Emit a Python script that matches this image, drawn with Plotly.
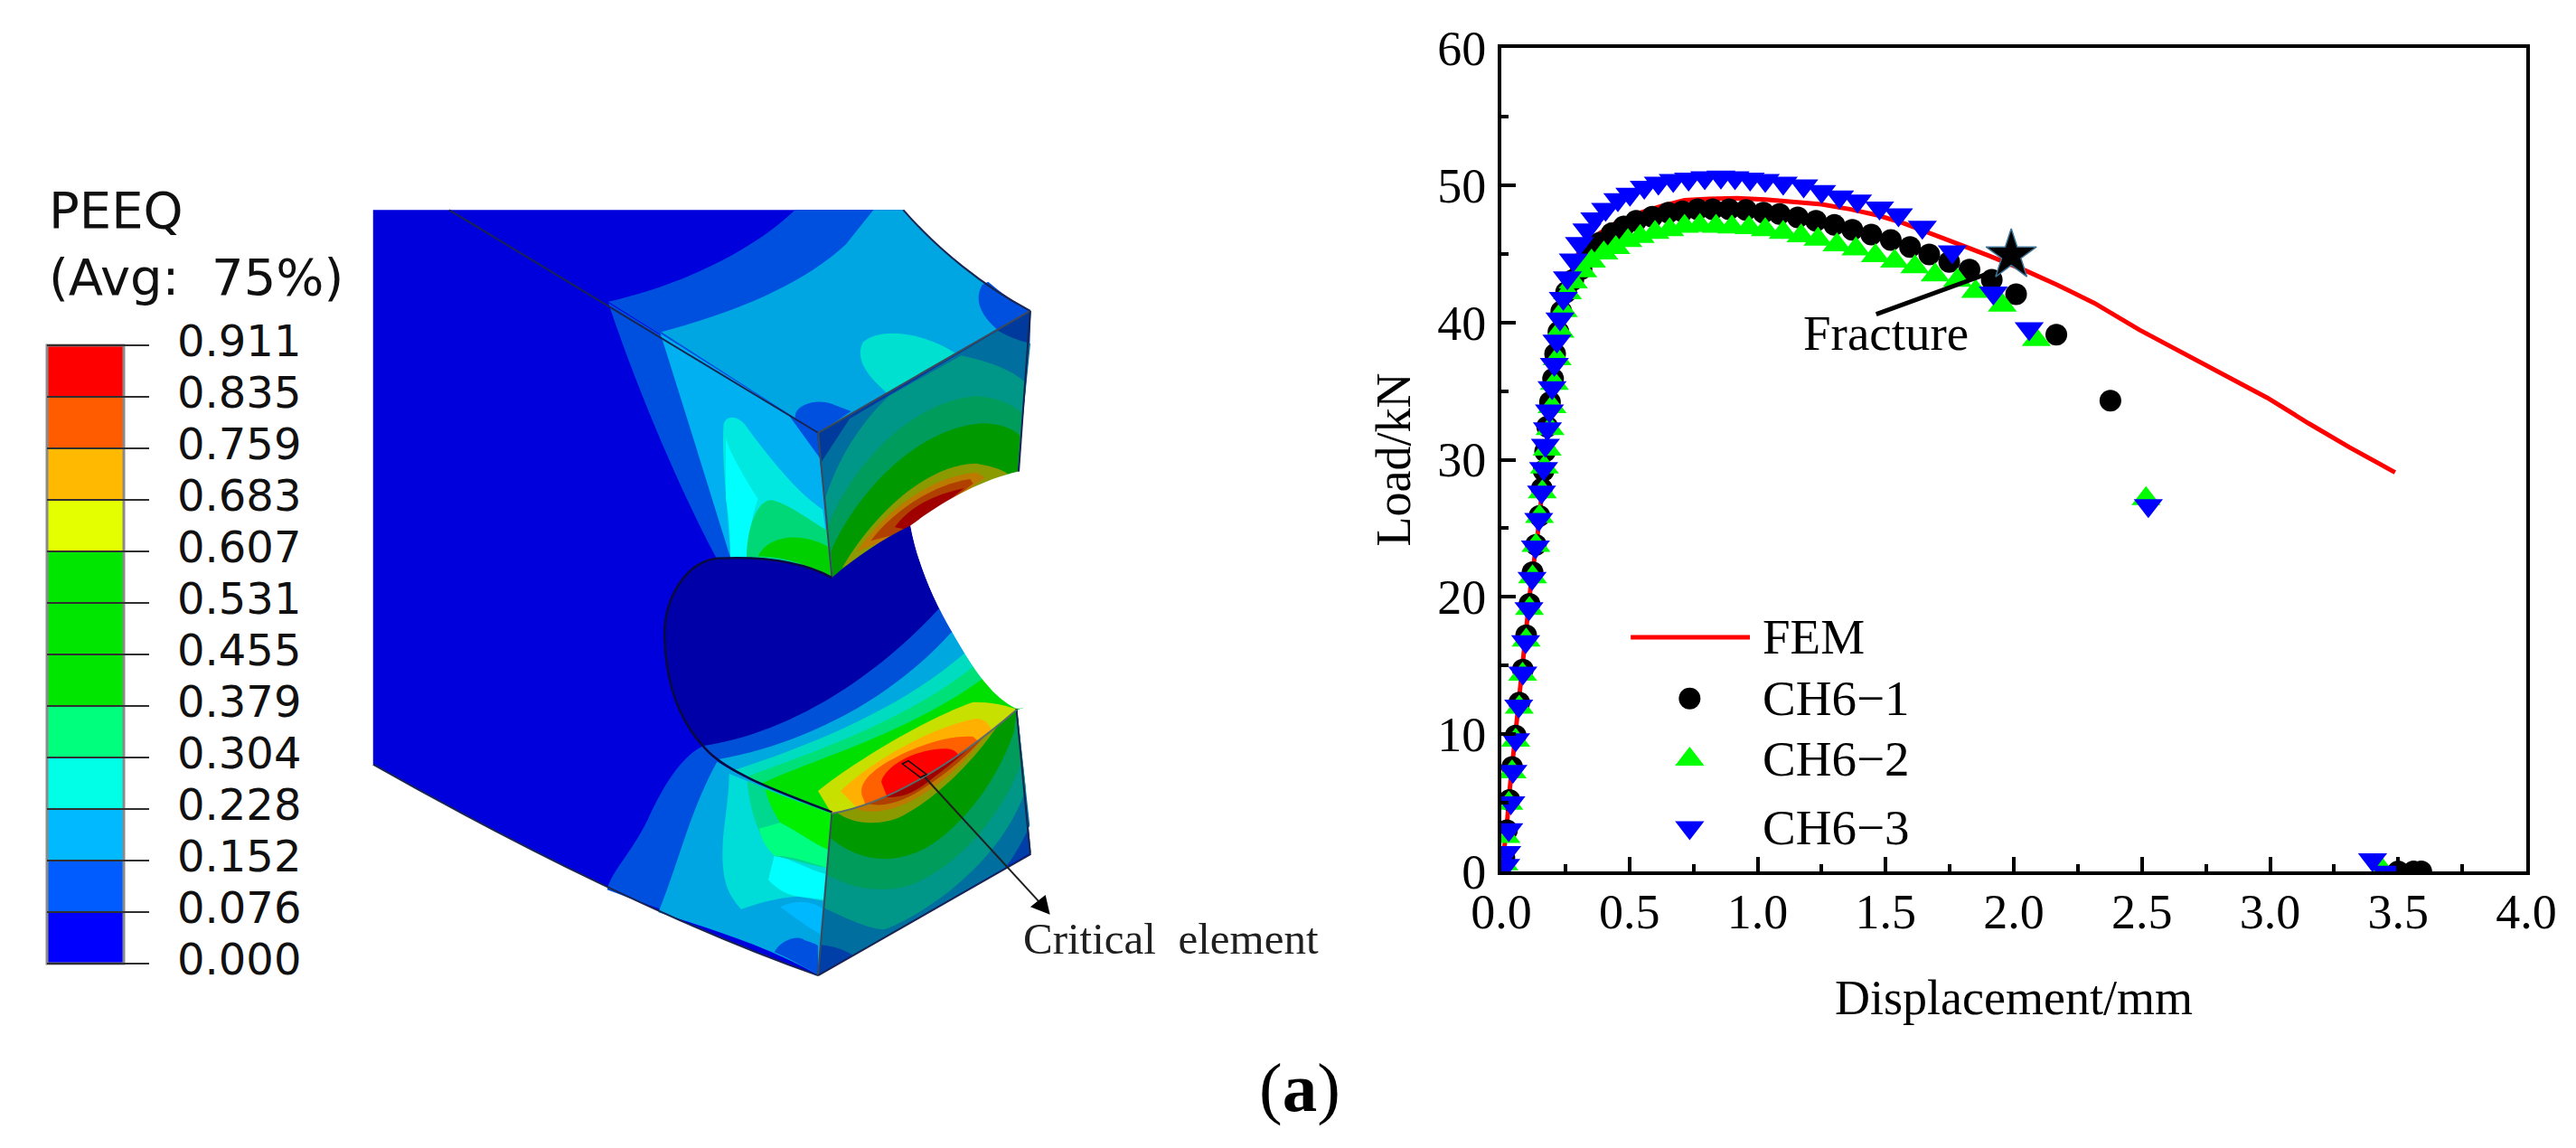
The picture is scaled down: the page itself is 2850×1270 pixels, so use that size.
import re
import plotly.graph_objects as go

# ---------------- chart data ----------------
fem_x = [0, .02, .034, .06, .085, .113, .144, .175, .20, .23, .26, .30, .384, .447, .526, .62, .715, .81, .92, 1.03,
         1.14, 1.25, 1.36, 1.47, 1.567, 1.677, 1.82, 1.905, 2.05, 2.168, 2.315, 2.49, 2.638, 2.785, 2.99, 3.15, 3.31, 3.488]
fem_y = [0, 3, 6.2, 10.8, 15.3, 20.5, 24.9, 30.5, 35.5, 40, 43, 45, 46.5, 47.25, 47.9, 48.45, 48.9, 49.0, 49.05, 48.95,
         48.8, 48.6, 48.25, 47.8, 47.25, 46.5, 45.45, 44.84, 43.74, 42.75, 41.4, 39.46, 38.0, 36.6, 34.5, 32.65, 30.9, 29.07]

ch1_x = [.012, .022, .032, .042, .056, .07, .084, .097, .11, .122, .135, .149, .158, .165, .171, .179, .19, .202, .21,
         .223, .234, .253, .281, .313, .34, .384, .431, .478, .526, .589, .652, .707, .766, .825, .889, .955, 1.023,
         1.086, 1.157, 1.228, 1.30, 1.37, 1.444, 1.52, 1.595, 1.67, 1.748, 1.827, 1.914, 2.009, 2.166, 2.377, 3.50, 3.56, 3.59]
ch1_y = [1.0, 3.0, 5.2, 7.6, 9.9, 12.3, 14.7, 17.2, 19.5, 21.8, 23.8, 25.9, 27.9, 29.2, 30.6, 32.4, 34.2, 35.9, 37.7,
         39.3, 40.8, 42.2, 43.1, 43.9, 45.3, 45.8, 46.5, 47.0, 47.4, 47.7, 48.0, 48.1, 48.25, 48.25, 48.25, 48.2, 48.0,
         47.9, 47.65, 47.4, 47.1, 46.75, 46.4, 46.0, 45.5, 44.95, 44.4, 43.85, 43.1, 42.05, 39.1, 34.3, 0, 0, 0]

ch2_x = [.01, .018, .029, .042, .056, .07, .083, .097, .11, .122, .135, .149, .16, .168, .179, .19, .198, .207, .218,
         .229, .242, .258, .281, .318, .352, .40, .447, .494, .542, .60, .657, .715, .775, .838, .90, .967, 1.03, 1.10,
         1.17, 1.236, 1.31, 1.384, 1.46, 1.535, 1.614, 1.693, 1.78, 1.851, 1.955, 2.088, 2.516, 3.44]
ch2_y = [.55, 2.54, 4.95, 7.25, 9.55, 11.95, 14.35, 16.85, 19.15, 21.45, 23.75, 25.85, 27.65, 29.45, 30.75, 32.25, 33.85,
         35.55, 37.35, 39.35, 40.85, 42.15, 42.95, 43.75, 44.45, 45.05, 45.45, 45.95, 46.25, 46.55, 46.75, 47.0, 47.05,
         47.0, 46.95, 46.9, 46.75, 46.55, 46.3, 46.05, 45.65, 45.35, 44.85, 44.45, 44.05, 43.45, 43.05, 42.25, 41.25, 38.75, 27.15, .05]

ch3_x = [.017, .021, .029, .037, .045, .056, .068, .084, .095, .108, .12, .133, .146, .157, .165, .172, .18, .188, .198,
         .207, .217, .229, .242, .258, .281, .305, .334, .365, .407, .455, .502, .558, .613, .671, .731, .794, .857, .912,
         .971, 1.03, 1.10, 1.18, 1.25, 1.32, 1.39, 1.476, 1.55, 1.643, 1.76, 1.92, 2.06, 2.525, 3.40, 3.45]
ch3_y = [.45, 1.39, 3.04, 5.0, 7.3, 9.6, 12.05, 14.45, 16.75, 19.15, 21.35, 23.65, 25.65, 27.65, 29.35, 31.05, 32.25, 33.55,
         35.25, 36.95, 38.65, 40.25, 41.75, 43.25, 44.55, 45.75, 46.75, 47.55, 48.25, 48.95, 49.35, 49.85, 50.15, 50.35,
         50.45, 50.55, 50.6, 50.55, 50.45, 50.35, 50.15, 49.95, 49.55, 49.15, 48.85, 48.35, 47.85, 46.95, 45.15, 42.15,
         39.55, 26.65, .85, -.05]

fracture_x = [1.99]
fracture_y = [44.9]
fracture_pointer_x = [1.463, 1.905]
fracture_pointer_y = [40.6, 43.6]

x_ticks = [0.0, 0.5, 1.0, 1.5, 2.0, 2.5, 3.0, 3.5, 4.0]
y_ticks = [0, 10, 20, 30, 40, 50, 60]

legend_names = ["FEM", "CH6\u22121", "CH6\u22122", "CH6\u22123"]
legend_key_y = [17.06, 12.6, 8.17, 3.2]
legend_line_x = [.505, .97]
legend_key_x = .735
legend_text_x = 1.012

peeq_levels = ["0.911", "0.835", "0.759", "0.683", "0.607", "0.531", "0.455",
               "0.379", "0.304", "0.228", "0.152", "0.076", "0.000"]
peeq_colors = ["#ff0000", "#ff5c00", "#ffb900", "#e3ff00", "#00e600", "#00e600", "#00e600",
               "#00ff7c", "#00ffe6", "#00b9ff", "#005cff", "#0000ff"]

W, H = 2850, 1270
SERIF = "Liberation Serif"

# ---------------- helpers for the drawn (non-data) illustration ----------------
Z6 = (400, 200, 1.96, 1.704)
Z8 = (880, 300, 3, 3)
Z9 = (880, 750, 3, 3)
Z10 = (650, 750, 3, 3)
NUM = re.compile(r"(-?\d+(?:\.\d+)?),(-?\d+(?:\.\d+)?)")


def T(fr, d):
    ox, oy, sx, sy = fr
    return NUM.sub(lambda m: f"{ox + float(m[1]) / sx:.2f},{oy + float(m[2]) / sy:.2f}", d)


def bez(t):
    p = [(120, 450), (300, 420), (520, 290), (735, 105)]
    u = 1 - t
    c = [u ** 3, 3 * u * u * t, 3 * u * t * t, t ** 3]
    return sum(a * b[0] for a, b in zip(c, p)), sum(a * b[1] for a, b in zip(c, p))


def arc(t0, t1, n=24):
    """lower notch edge, page coordinates, as line segments"""
    out = []
    for i in range(n + 1):
        x, y = bez(t0 + (t1 - t0) * i / n)
        out.append(f"L{880 + x / 3:.2f},{750 + y / 3:.2f}")
    return " ".join(out)


shapes = []


def paper(d):
    return NUM.sub(lambda m: f"{float(m[1]) / W:.5f},{1 - float(m[2]) / H:.5f}", d)


def fill(d, color):
    shapes.append(dict(type="path", xref="paper", yref="paper", path=paper(d), fillcolor=color,
                       line=dict(width=0), layer="below"))


def stroke(d, color="#1a2450", width=2):
    shapes.append(dict(type="path", xref="paper", yref="paper", path=paper(d),
                       line=dict(color=color, width=width), layer="below"))


BLUE0, BLUE1, BLUE2 = "#0000dc", "#0050e0", "#00a6e2"

# silhouette
fill(T(Z6, "M25,55 L1175,55 C1250,130 1350,200 1450,245 L1425,548 C1340,565 1260,605 1190,650 "
           "C1205,720 1240,790 1280,850 C1320,910 1360,970 1420,995 L1450,1270 L990,1498 "
           "C700,1410 350,1260 25,1100 Z"), BLUE0)
# top face
fill(T(Z6, "M535,228 C700,195 850,130 940,55 L1175,55 C1250,130 1350,200 1450,245 L990,475 Z"), BLUE1)
fill(T(Z6, "M650,285 C800,250 950,200 1050,120 L1110,55 L1175,55 C1250,130 1350,200 1450,245 L990,475 Z"), BLUE2)
fill(T(Z8, "M672,195 C620,150 590,100 620,45 L640,35 C680,70 730,105 782,132 Z"), BLUE1)
fill(T(Z8, "M305,405 C240,350 195,290 225,235 C290,180 440,210 535,275 Z"), "#00e0d0")
fill(T(Z8, "M0,490 C-10,450 60,420 120,440 L185,465 L72,540 Z"), BLUE1)
# upper left face
fill(T(Z6, "M535,230 L990,475 L1020,748 C950,715 860,708 770,712 C700,600 600,400 535,230 Z"), BLUE1)
fill(T(Z6, "M648,288 L925,440 L1000,530 L1020,748 C950,715 860,708 800,710 C760,600 700,430 648,288 Z"), "#00b0f0")
fill(T(Z6, "M785,460 C790,440 820,440 840,470 C900,540 950,590 1000,620 L1020,748 C960,715 880,708 800,710 "
           "C795,620 780,530 785,460 Z"), "#00e8e0")
fill(T(Z6, "M790,600 C800,640 800,690 800,710 L840,710 C840,660 850,620 860,600 C830,560 790,500 790,480 Z"), "#00ffff")
fill(T(Z6, "M835,712 C835,650 860,600 890,602 C930,610 970,640 1012,660 L1020,748 C950,715 880,708 835,712 Z"), "#00d878")
fill(T(Z6, "M860,708 C880,670 950,660 1012,690 L1020,748 C950,715 900,708 860,708 Z"), "#00d000")
# upper right face
UP_ARC = "L737,670 C600,700 480,760 385,825 C300,880 220,960 125,1025"
fill(T(Z8, "M72,540 L782,132 L778,240 " + UP_ARC + " Z"), "#003a9c")
fill(T(Z8, "M85,635 L180,490 L672,197 Q720,225 780,240 " + UP_ARC + " Z"), "#006e9e")
fill(T(Z8, "M100,750 C150,600 230,490 310,415 L550,280 C650,300 720,330 765,370 " + UP_ARC + " Z"), "#009688")
fill(T(Z8, "M105,850 C190,640 380,440 590,415 C660,415 720,440 750,470 " + UP_ARC + " Z"), "#009c5c")
fill(T(Z8, "M118,930 C200,740 400,520 620,505 C670,505 720,520 745,545 " + UP_ARC + " Z"), "#009900")
fill(T(Z8, "M155,985 C250,820 430,640 600,638 C640,645 680,655 705,672 L385,860 Z"), "#8a9a00")
fill(T(Z8, "M205,930 C290,800 450,680 600,668 L630,685 L385,860 Z"), "#bd7a00")
fill(T(Z8, "M250,895 C320,800 450,710 580,690 L590,705 L385,860 Z"), "#b04000")
fill(T(Z8, "M330,850 C370,790 450,745 540,725 L560,720 L385,860 Z"), "#a00000")
# lower right face (its top is covered by the hole surface drawn next)
fill(T(Z9, "M120,440 L735,100 L782,580 L75,985 Z"), "#003fa8")
fill(T(Z9, "M78,885 C130,890 170,905 190,920 L695,630 C730,590 760,530 778,490 L735,100 L120,440 Z"), "#006e9e")
fill(T(Z9, "M88,760 C170,800 250,835 295,835 C420,790 680,620 765,370 L735,100 L120,440 Z"), "#009688")
fill(T(Z9, "M102,650 C180,700 300,720 400,680 C560,610 700,430 750,280 L735,100 L120,440 Z"), "#009c5c")
fill(T(Z9, "M115,530 C200,600 300,620 400,580 C520,530 660,370 725,180 L735,100 L120,440 Z"), "#009900")
fill(T(Z9, "M135,445 C180,480 260,495 340,465 C440,420 590,290 690,130 L120,440 Z"), "#8a9a00")
fill(T(Z9, "M185,430 C230,450 300,450 380,410 C480,360 580,270 660,150 Z"), "#bd7a00")
fill(T(Z9, "M230,415 C280,430 340,420 420,370 C500,320 570,260 630,190 Z"), "#b04000")
fill(T(Z9, "M300,395 C340,400 390,385 440,345 C500,300 550,260 590,220 Z"), "#a00000")
# hole surface
HOLE = (T(Z6, "M1020,748 C950,715 860,708 770,712 C700,720 655,790 657,860 C660,950 690,1020 745,1070 "
              "C790,1115 900,1150 1020,1190 ") + arc(0, 1) +
        T(Z6, " C1360,970 1320,910 1280,850 C1240,790 1205,720 1190,650 C1130,675 1070,710 1020,748 Z"))
fill(HOLE, "#0000a8")
CLOSE = " L1150,672 L1150,778 L1125,785 " + arc(1, 0) + " L800,880 Z"
fill("M778,825 C850,815 950,770 1040,672" + CLOSE, "#0050d8")
fill("M795,840 C880,825 980,780 1052,700" + CLOSE, "#00a8e0")
fill("M812,852 C880,830 990,790 1068,722" + CLOSE, "#00dcc0")
fill("M830,858 C890,835 1000,800 1080,735" + CLOSE, "#00e078")
fill("M847,865 C900,840 1010,810 1095,745" + CLOSE, "#00e000")
fill(T(Z9, "M120,450 L75,375 C180,290 420,140 590,80 C650,80 700,90 735,105") + " " + arc(1, 0) + " Z", "#c8e000")
fill(T(Z9, "M150,375 C260,270 460,160 600,135 C625,135 640,150 650,170") + " " + arc(.87, .15) + " Z", "#ffb000")
fill(T(Z9, "M225,400 C200,350 260,300 340,260 C430,215 520,190 590,195") + " " + arc(.8, .2) + " Z", "#ff6000")
fill(T(Z9, "M285,345 C300,290 400,235 500,235 C520,235 535,245 541,255") + " " + arc(.7, .32) + " Z", "#ff0000")
# white notch
fill(T(Z6, "M1425,548 C1340,565 1260,605 1190,650 C1205,720 1240,790 1280,850 C1320,910 1360,970 1420,995 "
           "L1500,990 L1600,990 L1600,548 Z"), "#ffffff")
# lower left face
EDGE_L = "C470,310 600,370 810,450"
fill(T(Z10, "M65,703 C80,640 140,590 200,470 C250,360 310,260 385,225 " + EDGE_L + " L765,985 C600,890 300,790 65,703 Z"), BLUE1)
fill(T(Z10, "M235,778 C300,620 340,440 430,278 C530,340 680,400 810,450 L765,985 C600,890 400,830 235,778 Z"), BLUE2)
fill(T(Z10, "M510,768 C470,720 440,680 450,530 C460,440 470,380 470,318 C600,370 700,410 810,450 L785,740 L700,725 "
            "C620,730 560,750 510,768 Z"), "#00dcd8")
fill(T(Z10, "M600,670 L620,590 C680,600 740,640 790,650 L782,735 L700,725 C650,720 620,690 600,670 Z"), "#00ffff")
fill(T(Z10, "M640,760 C700,730 750,745 780,765 L772,850 C720,820 680,790 640,760 Z"), "#00b8ff")
fill(T(Z10, "M530,342 C540,450 570,530 620,590 C680,600 730,620 795,630 L810,450 C700,410 600,370 530,342 Z"), "#00d890")
fill(T(Z10, "M640,480 C700,510 750,550 800,570 L795,630 C730,610 680,590 620,590 C590,560 575,530 570,500 Z"), "#00ff80")
fill(T(Z10, "M590,368 C600,420 640,480 640,480 C700,510 750,550 800,570 L810,450 C700,410 640,390 590,368 Z"), "#00f000")
fill(T(Z10, "M620,910 C640,870 700,850 720,870 C750,880 765,885 765,890 L765,985 C720,960 670,930 620,910 Z"), BLUE1)
# edges
stroke(T(Z6, "M190,55 L990,475"))
stroke(T(Z6, "M1175,55 C1250,130 1350,200 1450,245"))
stroke(T(Z6, "M990,475 L1450,245"), "#3a4a5a")
stroke(T(Z6, "M990,475 L1020,748"), "#3a4a5a")
stroke(T(Z6, "M1450,245 L1425,548"))
stroke(T(Z6, "M25,1100 C350,1260 700,1410 990,1498"))
stroke(T(Z6, "M1020,748 C950,715 860,708 770,712 C700,720 655,790 657,860 C660,950 690,1020 745,1070 "
             "C790,1115 900,1150 1020,1190"), "#0a0a40", 2.5)
stroke(T(Z6, "M1020,1190 L990,1498"), "#3a4a5a")
stroke(T(Z6, "M1420,995 L1450,1270 L990,1498"))
stroke(T(Z9, "M120,450 C300,420 520,290 735,105"), "#5a6a6a")
# critical element pointer
stroke(T(Z9, "M355,285 L375,275 L435,320 L415,330 Z"), "#101010", 1.5)
stroke(T(Z9, "M430,330 L820,755"), "#202020", 2)
fill(T(Z9, "M845,785 L780,760 L830,720 Z"), "#000000")

# contour legend
bar_left, bar_right, bar_top, bar_bottom, tick_right = 52, 137, 382, 1066, 165
step = (bar_bottom - bar_top) / len(peeq_colors)
for i, c in enumerate(peeq_colors):
    y0 = bar_top + i * step
    fill(f"M{bar_left},{y0:.1f} L{bar_right},{y0:.1f} L{bar_right},{y0 + step:.1f} L{bar_left},{y0 + step:.1f} Z", c)
stroke(f"M{bar_left},{bar_top} L{bar_right},{bar_top} L{bar_right},{bar_bottom} L{bar_left},{bar_bottom} Z", "#8a8a8a", 3)
for i in range(len(peeq_levels)):
    y0 = bar_top + i * step
    stroke(f"M{bar_left},{y0:.1f} L{tick_right},{y0:.1f}", "#303030", 2)

annotations = []


def page_text(x, y, text, size, family, anchor="left", color="#101010"):
    annotations.append(dict(xref="paper", yref="paper", x=x / W, y=1 - y / H, text=text, showarrow=False,
                            xanchor=anchor, yanchor="middle", font=dict(family=family, size=size, color=color)))


page_text(52, 233, "PEEQ", 56, "DejaVu Sans")
page_text(52, 306, "(Avg:&nbsp;&nbsp;75%)", 56, "DejaVu Sans")
for i, lab in enumerate(peeq_levels):
    page_text(194, bar_top + i * step - 5, lab, 48, "DejaVu Sans")
page_text(1130, 1038, "Critical&nbsp;&nbsp;element", 49, SERIF, color="#202020")
page_text(1438, 1203, "(<b>a</b>)", 77, SERIF, "center", "#000000")

# legend labels and fracture label in data coordinates
for name, yy in zip(legend_names, legend_key_y):
    annotations.append(dict(xref="x", yref="y", x=legend_text_x, y=yy, text=name, showarrow=False, xanchor="left",
                            yanchor="middle", font=dict(family=SERIF, size=55, color="black")))
annotations.append(dict(xref="x", yref="y", x=1.17, y=39.2, text="Fracture", showarrow=False, xanchor="left",
                        yanchor="middle", font=dict(family=SERIF, size=55, color="black")))

fig = go.Figure()
RED, GREEN, NAVY = "#ff0000", "#00ff00", "#0000ff"
CIRC, TRI = 24, 28
fig.add_trace(go.Scatter(x=fem_x, y=fem_y, mode="lines", name="FEM", line=dict(color=RED, width=5)))
fig.add_trace(go.Scatter(x=ch1_x, y=ch1_y, mode="markers", name=legend_names[1],
                         marker=dict(symbol="circle", size=CIRC, color="black", line=dict(width=0))))
fig.add_trace(go.Scatter(x=ch2_x, y=ch2_y, mode="markers", name=legend_names[2],
                         marker=dict(symbol="triangle-up", size=TRI, color=GREEN, line=dict(width=0))))
fig.add_trace(go.Scatter(x=ch3_x, y=ch3_y, mode="markers", name=legend_names[3],
                         marker=dict(symbol="triangle-down", size=TRI, color=NAVY, line=dict(width=0))))
fig.add_trace(go.Scatter(x=fracture_x, y=fracture_y, mode="markers", name="Fracture",
                         marker=dict(symbol="star", size=42, color="black", line=dict(width=1.5, color="#3f7396"))))
fig.add_trace(go.Scatter(x=fracture_pointer_x, y=fracture_pointer_y, mode="lines", name="Fracture pointer",
                         line=dict(color="black", width=5)))
# legend keys
fig.add_trace(go.Scatter(x=legend_line_x, y=[legend_key_y[0]] * 2, mode="lines", name="FEM key",
                         line=dict(color=RED, width=5)))
fig.add_trace(go.Scatter(x=[legend_key_x], y=[legend_key_y[1]], mode="markers", name="CH6-1 key",
                         marker=dict(symbol="circle", size=CIRC, color="black", line=dict(width=0))))
fig.add_trace(go.Scatter(x=[legend_key_x], y=[legend_key_y[2]], mode="markers", name="CH6-2 key",
                         marker=dict(symbol="triangle-up", size=TRI, color=GREEN, line=dict(width=0))))
fig.add_trace(go.Scatter(x=[legend_key_x], y=[legend_key_y[3]], mode="markers", name="CH6-3 key",
                         marker=dict(symbol="triangle-down", size=TRI, color=NAVY, line=dict(width=0))))

axis_common = dict(showline=True, mirror=True, linecolor="black", linewidth=4, showgrid=False, zeroline=False,
                   ticks="inside", tickwidth=4, ticklen=16, tickcolor="black",
                   tickfont=dict(family=SERIF, size=54, color="black"), automargin=False)
fig.update_xaxes(domain=[1661 / W, 2795 / W], range=[0, 4], tickvals=x_ticks, ticktext=[f"{v:.1f}" for v in x_ticks],
                 ticklabelstandoff=-6,
                 minor=dict(dtick=.25, tick0=0, ticks="inside", ticklen=8, tickwidth=4, tickcolor="black", showgrid=False),
                 title=dict(text="Displacement/mm", standoff=47, font=dict(family=SERIF, size=54, color="black")),
                 **axis_common)
fig.update_yaxes(domain=[1 - 964 / H, 1 - 53 / H], range=[0, 60], tickvals=y_ticks, ticktext=[str(v) for v in y_ticks],
                 ticklabelstandoff=2,
                 minor=dict(dtick=5, tick0=0, ticks="inside", ticklen=8, tickwidth=4, tickcolor="black", showgrid=False),
                 title=dict(text="Load/kN", standoff=13, font=dict(family=SERIF, size=54, color="black")),
                 **axis_common)
fig.update_layout(width=W, height=H, margin=dict(l=0, r=0, t=0, b=0, pad=0), paper_bgcolor="white",
                  plot_bgcolor="rgba(0,0,0,0)", showlegend=False, shapes=shapes, annotations=annotations,
                  font=dict(family=SERIF))
fig.write_html("out.html", config=dict(displayModeBar=False),
               post_script="document.body.style.margin='0';document.body.style.overflow='hidden';")
